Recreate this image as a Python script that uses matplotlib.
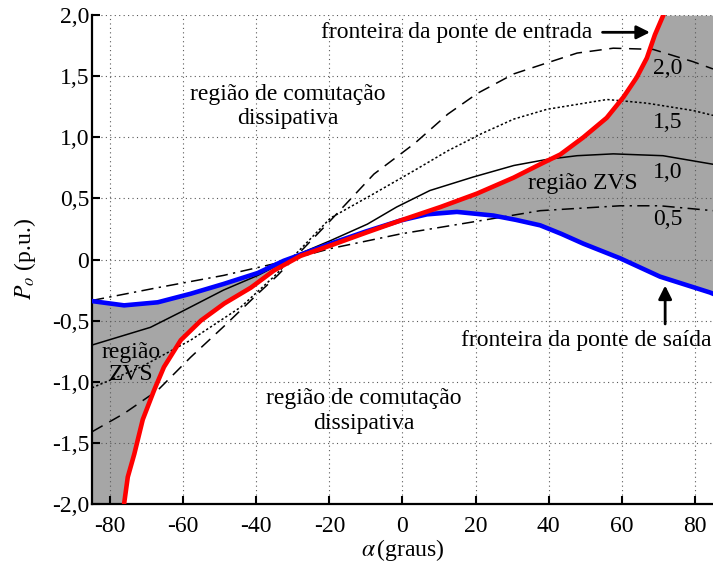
import numpy as np
import matplotlib
matplotlib.use("Agg")
import matplotlib.pyplot as plt

plt.rcParams['font.family'] = ['Liberation Serif', 'DejaVu Serif']
plt.rcParams['mathtext.fontset'] = 'stix'
plt.rcParams['font.size'] = 17

# fronteira da ponte de entrada (vermelho)
red_a = [-76.3, -75.2, -73.4, -71.1, -68, -65.3, -60.7, -55.2, -48.8, -41.5, -35.2,
         -27.9, -19.7, -10, -0.5, 10.4, 20.4, 30.4, 37.7, 43.2, 49.5, 55.9, 60.5,
         64.1, 66.9, 69.1, 71.4]
red_p = [-2.02, -1.78, -1.59, -1.31, -1.07, -0.88, -0.66, -0.50, -0.36, -0.23, -0.09,
         0.03, 0.115, 0.22, 0.32, 0.43, 0.54, 0.67, 0.78, 0.86, 1.0, 1.16, 1.33,
         1.49, 1.65, 1.84, 2.0]

# fronteira da ponte de saida (azul)
blue_a = [-85, -76.2, -67, -58, -49, -39.6, -32.5, -19.7, -10, -0.5, 6.7, 14.9, 24.9,
          31, 37.7, 43.5, 49.5, 59.6, 70.5, 84.2, 85]
blue_p = [-0.34, -0.375, -0.35, -0.28, -0.20, -0.11, -0.01, 0.13, 0.23, 0.32, 0.37,
          0.39, 0.36, 0.325, 0.28, 0.21, 0.13, 0.01, -0.14, -0.27, -0.28]

# curvas de potencia para cada valor de d
c05_a = [-85, -67, -49, -35.2, -19.7, -0.5, 17.7, 37.7, 59.6, 70.5, 81.4, 85]
c05_p = [-0.335, -0.23, -0.13, -0.035, 0.09, 0.21, 0.30, 0.40, 0.44, 0.44, 0.41, 0.40]

c10_a = [-85, -69, -60.7, -49, -39.6, -28, -19.7, -9.6, -1.6, 7.5, 19.3, 30.5, 39.6,
         47.8, 57.7, 71.3, 85]
c10_p = [-0.70, -0.555, -0.43, -0.25, -0.13, 0.05, 0.155, 0.29, 0.43, 0.565, 0.675,
         0.77, 0.82, 0.85, 0.865, 0.85, 0.78]

c15_a = [-85, -71.6, -58, -44.3, -35.2, -19.7, -7.8, 3.3, 12.4, 21.6, 30.5, 39.6,
         47.8, 56, 66.9, 79.5, 85]
c15_p = [-1.05, -0.88, -0.66, -0.39, -0.14, 0.34, 0.54, 0.73, 0.89, 1.03, 1.15, 1.23,
         1.27, 1.31, 1.28, 1.22, 1.18]

c20_a = [-85, -76.2, -67, -58, -49, -39.6, -34.2, -19.7, -7.8, 3.3, 12.4, 20.5, 30.5,
         39.6, 47.8, 57.7, 68.6, 79.5, 85]
c20_p = [-1.41, -1.26, -1.07, -0.80, -0.55, -0.28, -0.13, 0.32, 0.70, 0.95, 1.19,
         1.36, 1.52, 1.61, 1.69, 1.73, 1.72, 1.62, 1.56]

xticks = [-80, -60, -40, -20, 0, 20, 40, 60, 80]
xticklabels = ['-80', '-60', '-40', '-20', '0', '20', '40', '60', '80']
yticks = [-2, -1.5, -1, -0.5, 0, 0.5, 1, 1.5, 2]
yticklabels = ['-2,0', '-1,5', '-1,0', '-0,5', '0', '0,5', '1,0', '1,5', '2,0']

fig = plt.figure(figsize=(7.13, 5.63), dpi=100)
ax = fig.add_axes([0.129, 0.105, 0.871, 0.868])

# regiao ZVS (cinza)
grid = np.linspace(-85, 85, 800)
b = np.interp(grid, blue_a, blue_p)
r = np.interp(grid, red_a, red_p, left=-3, right=3)
r = np.clip(r, -2, 2)
ax.fill_between(grid, b, r, color='#a6a6a6', lw=0, zorder=1)

ax.plot(c05_a, c05_p, color='k', lw=1.1, dashes=(8, 3.5, 1.5, 3.5), zorder=2)
ax.plot(c10_a, c10_p, color='k', lw=1.1, zorder=2)
ax.plot(c15_a, c15_p, color='k', lw=1.1, dashes=(1.5, 1.5), zorder=2)
ax.plot(c20_a, c20_p, color='k', lw=1.1, dashes=(8, 5), zorder=2)
ax.plot(blue_a, blue_p, color='#0000ff', lw=3.3, zorder=3, solid_joinstyle='round')
ax.plot(red_a, red_p, color='#ff0000', lw=3.3, zorder=4, solid_joinstyle='round')

ax.set_xlim(-85, 85)
ax.set_ylim(-2, 2)
ax.set_xticks(xticks)
ax.set_xticklabels(xticklabels)
ax.set_yticks(yticks)
ax.set_yticklabels(yticklabels)
ax.tick_params(direction='in', length=6, width=1.5, labelsize=17)
ax.tick_params(axis='x', pad=9)
ax.tick_params(axis='y', pad=2)
ax.spines['top'].set_visible(False)
ax.spines['right'].set_visible(False)
ax.spines['left'].set_linewidth(1.6)
ax.spines['bottom'].set_linewidth(1.6)
ax.grid(True, linestyle=(0, (1, 3)), color='0.35', lw=0.8)

ax.set_xlabel(r'$\alpha\,$(graus)', fontsize=17, labelpad=0)
ax.set_ylabel(r'$P_o$ (p.u.)', fontsize=17, labelpad=10)

# rotulos
for txt, yy in [('2,0', 1.56), ('1,5', 1.12), ('1,0', 0.71), ('0,5', 0.33)]:
    ax.text(72.7, yy, txt, ha='center', va='center', fontsize=17)
ax.text(49.3, 0.62, 'região ZVS', ha='center', va='center', fontsize=17)
ax.text(-74.3, -0.85, 'região\nZVS', ha='center', va='center', fontsize=17,
        linespacing=1.1)
ax.text(-31.4, 1.25, 'região de comutação\ndissipativa', ha='center', va='center',
        fontsize=17, linespacing=1.2)
ax.text(-10.5, -1.24, 'região de comutação\ndissipativa', ha='center', va='center',
        fontsize=17, linespacing=1.2)

ax.text(51.9, 1.86, 'fronteira da ponte de entrada', ha='right', va='center', fontsize=17)
ax.annotate('', xy=(68.5, 1.86), xytext=(54.0, 1.86),
            arrowprops=dict(arrowstyle='-|>', color='k', lw=2, mutation_scale=20))
ax.text(84.5, -0.66, 'fronteira da ponte de saída', ha='right', va='center', fontsize=17)
ax.annotate('', xy=(71.9, -0.19), xytext=(71.9, -0.55),
            arrowprops=dict(arrowstyle='-|>', color='k', lw=2, mutation_scale=20))

fig.savefig('out.png', dpi=100)
